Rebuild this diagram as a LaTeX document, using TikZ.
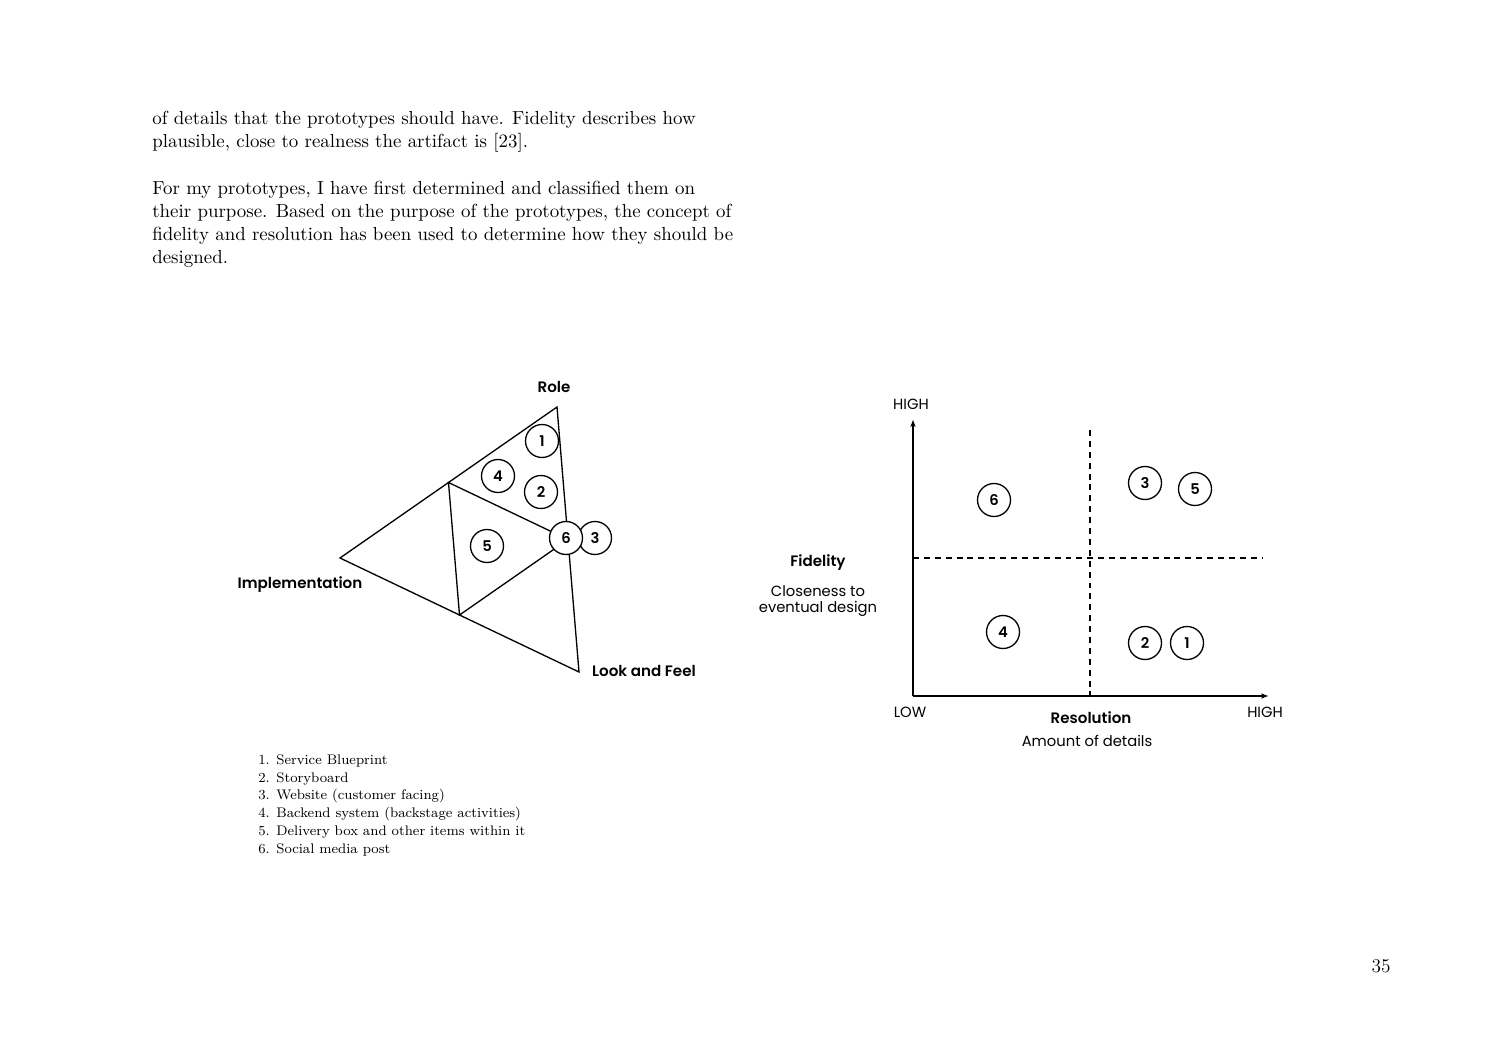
\documentclass[tikz,border=0pt]{standalone}
\usepackage{fontspec}
\newfontfamily\poppins{Poppins}[BoldFont={Poppins SemiBold}]
\usetikzlibrary{arrows.meta,positioning,calc}
\tikzset{
  lab/.style={font=\poppins\fontsize{8.6}{10}\selectfont\bfseries, inner sep=1pt},
  note/.style={font=\poppins\fontsize{8.4}{9.6}\selectfont, inner sep=1pt, align=center},
  num/.style={draw, circle, fill=white, line width=0.75pt, minimum size=6.6mm, inner sep=0pt, font=\poppins\fontsize{8.4}{9}\selectfont\bfseries},
  edge/.style={line width=0.75pt, line join=miter},
  axis/.style={line width=0.75pt, -{Stealth[length=4pt,width=3pt]}},
  split/.style={line width=0.65pt, dash pattern=on 3.4pt off 2.8pt},
  body/.style={font=\fontsize{10.75}{13.2}\selectfont, align=left, inner sep=0pt, anchor=north west},
  list/.style={font=\fontsize{7.9}{10.2}\selectfont, align=left, inner sep=0pt, anchor=north west}
}

\begin{document}
\begin{tikzpicture}[x=0.02cm,y=-0.02cm]
\useasboundingbox (0,0) rectangle (1500,1061);
% text
\node[body] (para) at (152,111) {of details that the prototypes should have. Fidelity describes how\\
plausible, close to realness the artifact is [23].\\[13.2pt]
For my prototypes, I have first determined and classified them on\\
their purpose. Based on the purpose of the prototypes, the concept of\\
fidelity and resolution has been used to determine how they should be\\
designed.};
% triangle
\coordinate (role) at (557,407);
\coordinate (impl) at (340,558);
\coordinate (look) at (579,672);
\coordinate (ri) at ($(role)!0.5!(impl)$);
\coordinate (il) at ($(impl)!0.5!(look)$);
\coordinate (lr) at ($(look)!0.5!(role)$);
\draw[edge] (role) -- (impl) -- (look) -- cycle;
\draw[edge] (ri) -- (il) -- (lr) -- cycle;
\node[lab] (rolelab) at (554,387) {Role};
\node[lab] (impllab) at (300,585) {Implementation};
\node[lab] (looklab) at (644,671) {Look and Feel};
\node[num] (t1) at (542,441) {1};
\node[num] (t4) at (498,476) {4};
\node[num] (t2) at (541,492) {2};
\node[num] (t5) at (487,546) {5};
\node[num] (t3) at (595,538) {3};
\node[num] (t6) at (566,538) {6};
% legend
\node[list] (legend) at (258,754) {1. Service Blueprint\\
2. Storyboard\\
3. Website (customer facing)\\
4. Backend system (backstage activities)\\
5. Delivery box and other items within it\\
6. Social media post};
% chart
\coordinate (o) at (913,696);
\coordinate (ytop) at (913,420);
\coordinate (xend) at (1268,696);
\coordinate (vtop) at (1090,430);
\coordinate (vbot) at (1090,696);
\coordinate (hl) at (913,558);
\coordinate (hr) at (1263,558);
\draw[axis] (o) -- (ytop);
\draw[axis] (o) -- (xend);
\draw[split] (vtop) -- (vbot);
\draw[split] (hl) -- (hr);
\node[note] (yhigh) at (911,404) {HIGH};
\node[note] (xlow) at (910,712) {LOW};
\node[note] (xhigh) at (1265,712) {HIGH};
\node[lab] (reslab) at (1091,718) {Resolution};
\node[note] (resnote) at (1087,741) {Amount of details};
\node[lab] (fidlab) at (818,563) {Fidelity};
\node[note] (fidnote) at (818,601) {Closeness to\\eventual design};
\node[num] (c6) at (994,500) {6};
\node[num] (c3) at (1145,483) {3};
\node[num] (c5) at (1195,489) {5};
\node[num] (c4) at (1003,632) {4};
\node[num] (c2) at (1145,643) {2};
\node[num] (c1) at (1187,643) {1};
% page number
\node[font=\fontsize{11}{13}\selectfont] (page) at (1381,966) {35};
\end{tikzpicture}
\end{document}
